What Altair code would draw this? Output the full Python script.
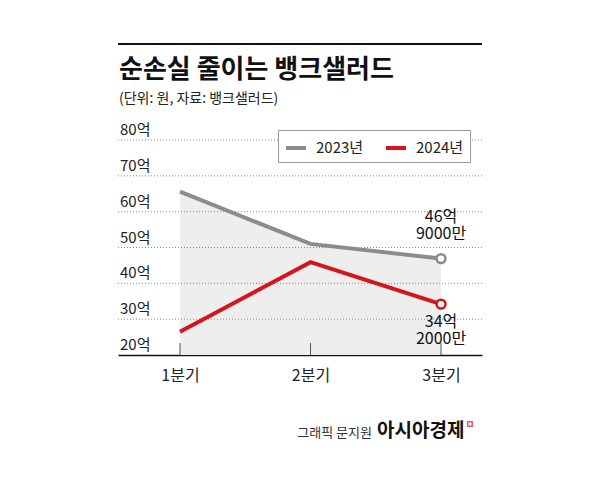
import altair as alt
import pandas as pd

FONT = "Noto Sans CJK KR"

quarters = [1, 2, 3]
quarter_labels = ["1분기", "2분기", "3분기"]
years = ["2023년", "2024년"]
v2023 = [65.6, 51.0, 46.9]
v2024 = [26.5, 45.9, 34.2]
y_ticks = [20, 30, 40, 50, 60, 70, 80]
colors = ["#8c8c8c", "#d7141e"]

rows = []
for yr, vals in zip(years, [v2023, v2024]):
    for q, lab, v in zip(quarters, quarter_labels, vals):
        whole = int(v)
        man = int(round((v - whole) * 10000))
        rows.append({"quarter": q, "qlabel": lab, "year": yr, "value": v,
                     "l1": f"{whole}억", "l2": f"{man}만"})
df = pd.DataFrame(rows)
tick_df = pd.DataFrame({"v": y_ticks, "lab": [f"{t}억" for t in y_ticks]})
q_df = pd.DataFrame({"quarter": quarters})
one = pd.DataFrame({"a": [0]})

W, H = 364, 215
xscale = alt.Scale(domain=[0.525, 3.314], nice=False, zero=False)
yscale = alt.Scale(domain=[20, 80], nice=False, zero=False)
label_expr = "datum.value == 1 ? '1분기' : datum.value == 2 ? '2분기' : '3분기'"
xenc = alt.X("quarter:Q", scale=xscale,
             axis=alt.Axis(values=quarters, labelExpr=label_expr, title=None,
                           grid=False, ticks=False, domainColor="#111",
                           domainWidth=1.5, labelFontSize=16, labelFont=FONT,
                           labelColor="#222", labelPadding=12))
yenc = alt.Y("value:Q", scale=yscale, axis=None)
cscale = alt.Scale(domain=years, range=colors)

area = alt.Chart(df).transform_filter(alt.datum.year == "2023년").mark_area(
    color="#eeeeee").encode(x=xenc, y=yenc, y2=alt.datum(20))

grid = alt.Chart(tick_df).transform_filter(alt.datum.v > 20).mark_rule(
    strokeDash=[1, 2], color="#8a8a8a", strokeWidth=1).encode(
    y=alt.Y("v:Q", scale=yscale, axis=None), x=alt.value(0), x2=alt.value(W))

ticks = alt.Chart(q_df).mark_rule(color="#555", strokeWidth=1).encode(
    x=xenc, y=alt.value(H), y2=alt.value(H - 12))

lines = alt.Chart(df).mark_line(strokeWidth=4).encode(
    x=xenc, y=yenc,
    color=alt.Color("year:N", scale=cscale,
                    legend=alt.Legend(orient="none", legendX=160, legendY=-10,
                                      direction="horizontal", title=None,
                                      symbolType="stroke", symbolStrokeWidth=4,
                                      symbolSize=400, labelFontSize=15,
                                      labelFont=FONT, labelColor="#222",
                                      strokeColor="#999", fillColor="white",
                                      padding=6, columnPadding=14,
                                      labelOffset=8)))

def note(year, field, baseline, dy):
    return alt.Chart(df).transform_filter(
        (alt.datum.quarter == 3) & (alt.datum.year == year)).mark_text(
        font=FONT, fontSize=16, color="#111", align="center",
        baseline=baseline, dy=dy).encode(x=xenc, y=yenc, text=f"{field}:N")

note_top1 = note("2023년", "l1", "bottom", -34)
note_top2 = note("2023년", "l2", "bottom", -17)
note_bot1 = note("2024년", "l1", "top", 10)
note_bot2 = note("2024년", "l2", "top", 27)

points = alt.Chart(df).transform_filter(alt.datum.quarter == 3).mark_point(
    shape="circle", size=80, strokeWidth=2.5, fill="white", fillOpacity=1,
    opacity=1).encode(
    x=xenc, y=yenc,
    stroke=alt.Stroke("year:N", scale=cscale, legend=None))

ylabels = alt.Chart(tick_df).mark_text(
    font=FONT, fontSize=15, color="#222", align="left", baseline="alphabetic",
    dy=-5).encode(y=alt.Y("v:Q", scale=yscale, axis=None), x=alt.value(2),
                  text="lab:N")

def deco_text(txt, x, y, size, weight="normal", align="left", color="#111"):
    return alt.Chart(one).mark_text(font=FONT, fontSize=size, fontWeight=weight,
                                    align=align, baseline="alphabetic",
                                    color=color).encode(
        x=alt.value(x), y=alt.value(y), text=alt.value(txt))

top_rule = alt.Chart(one).mark_rule(color="#111", strokeWidth=2).encode(
    x=alt.value(0), x2=alt.value(W), y=alt.value(-96))
title = deco_text("순손실 줄이는 뱅크샐러드", 1, -62, 26, weight="bold")
subtitle = deco_text("(단위: 원, 자료: 뱅크샐러드)", 1, -37, 14, color="#222")
credit = deco_text("그래픽 문지원", 254, 297, 13, align="right", color="#333")
brand = deco_text("아시아경제", 259, 297, 19, weight="bold")
icon = alt.Chart(one).mark_point(shape="square", size=20, strokeWidth=1.5,
                                 color="#d7141e", filled=False).encode(
    x=alt.value(352), y=alt.value(284))

chart = alt.layer(area, grid, ticks, lines, note_top1, note_top2, note_bot1,
                  note_bot2, points, ylabels, top_rule, title, subtitle, credit,
                  brand, icon).properties(
    width=W, height=H,
    autosize=alt.AutoSizeParams(type="none"),
    padding={"left": 110, "top": 132, "right": 110, "bottom": 110},
    background="white",
).configure_view(stroke=None)

chart.save("out.html", embed_options={"renderer": "svg", "actions": False})
